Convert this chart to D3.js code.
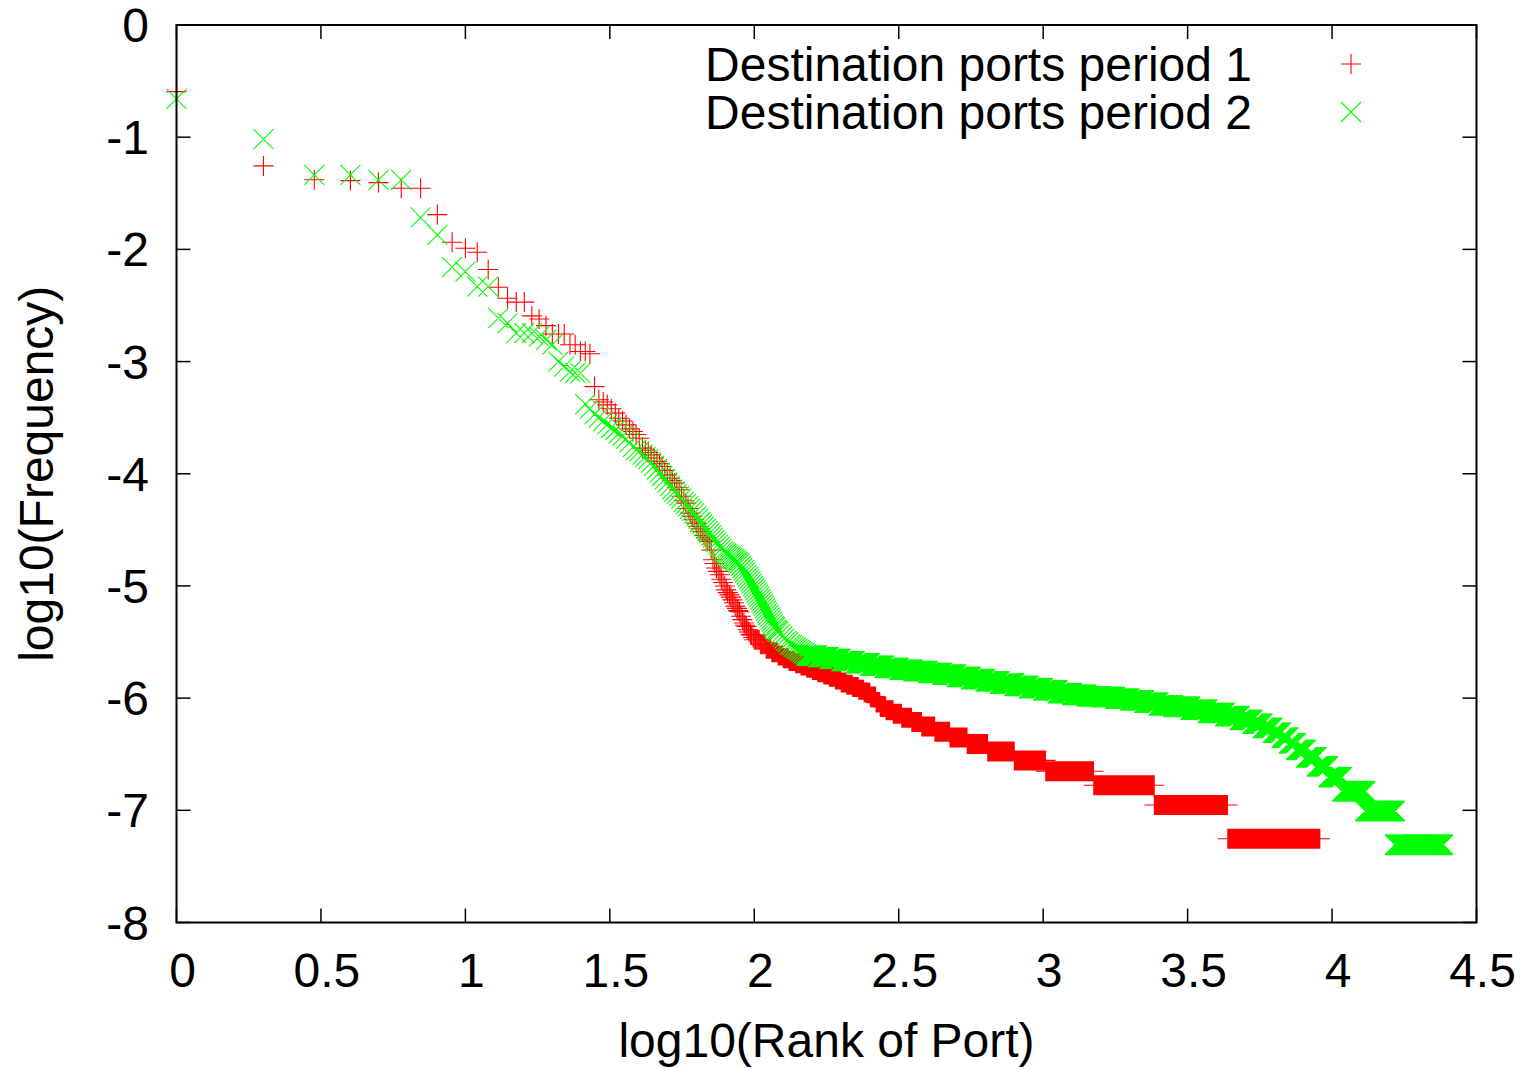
<!DOCTYPE html>
<html>
<head>
<meta charset="utf-8">
<script src="https://cdn.jsdelivr.net/npm/d3@7"></script>
<style>
  html, body { margin: 0; padding: 0; background: #ffffff; }
  svg { display: block; }
</style>
</head>
<body>
<svg id="chart" width="1521" height="1069"></svg>
<script>
// Axis ticks
const xTicks = [0, 0.5, 1, 1.5, 2, 2.5, 3, 3.5, 4, 4.5];
const yTicks = [0, -1, -2, -3, -4, -5, -6, -7, -8];
const xTitle = "log10(Rank of Port)";
const yTitle = "log10(Frequency)";
const seriesNames = ["Destination ports period 1", "Destination ports period 2"];

// Period 1: single ranks [log10(rank), log10(frequency)]
const period1Points = [
  [0, -0.594], [0.301, -1.256], [0.477, -1.38], [0.602, -1.387], [0.699, -1.405],
  [0.778, -1.455], [0.845, -1.455], [0.903, -1.69], [0.954, -1.936], [1.0, -1.99],
  [1.041, -2.025], [1.079, -2.18], [1.114, -2.338], [1.146, -2.435], [1.176, -2.47],
  [1.204, -2.47], [1.23, -2.593], [1.255, -2.62], [1.279, -2.68], [1.301, -2.754],
  [1.322, -2.754], [1.342, -2.754], [1.362, -2.85], [1.38, -2.85], [1.398, -2.91],
  [1.415, -2.91], [1.431, -2.93], [1.447, -3.223], [1.462, -3.34], [1.477, -3.36],
  [1.491, -3.386], [1.505, -3.42], [1.519, -3.46], [1.531, -3.505], [1.544, -3.53],
  [1.556, -3.564], [1.568, -3.6], [1.58, -3.624], [1.591, -3.65], [1.602, -3.683],
  [1.613, -3.772], [1.623, -3.79], [1.633, -3.81], [1.643, -3.832], [1.653, -3.86],
  [1.663, -3.89], [1.672, -3.91], [1.681, -3.936], [1.69, -3.97], [1.699, -4.01],
  [1.708, -4.04], [1.716, -4.06], [1.724, -4.084], [1.732, -4.12], [1.74, -4.143],
  [1.748, -4.2], [1.756, -4.24], [1.763, -4.262], [1.771, -4.31], [1.778, -4.351],
  [1.785, -4.38], [1.792, -4.41], [1.799, -4.44], [1.806, -4.47], [1.813, -4.49],
  [1.82, -4.515], [1.826, -4.55], [1.833, -4.57], [1.839, -4.59], [1.845, -4.604],
  [1.851, -4.68], [1.857, -4.767], [1.863, -4.8], [1.869, -4.84], [1.875, -4.87],
  [1.881, -4.9], [1.886, -4.94], [1.892, -4.97], [1.898, -5.0], [1.903, -5.035],
  [1.908, -5.06], [1.914, -5.08], [1.919, -5.1], [1.924, -5.124], [1.929, -5.15],
  [1.934, -5.18], [1.94, -5.2], [1.944, -5.22], [1.949, -5.23], [1.954, -5.27],
  [1.959, -5.3], [1.964, -5.33], [1.968, -5.35], [1.973, -5.362], [1.978, -5.39],
  [1.982, -5.41], [1.987, -5.43], [1.991, -5.44], [1.996, -5.46]
];

// Period 1: runs of consecutive ranks sharing one frequency [from log10(rank), to log10(rank), log10(frequency)]
const period1Runs = [
  [2.0, 2.02, -5.48], [2.02, 2.04, -5.52], [2.04, 2.06, -5.56], [2.06, 2.08, -5.59],
  [2.08, 2.1, -5.62], [2.1, 2.12, -5.645], [2.12, 2.14, -5.67], [2.14, 2.16, -5.69],
  [2.16, 2.18, -5.71], [2.18, 2.2, -5.73], [2.2, 2.22, -5.75], [2.22, 2.24, -5.77],
  [2.24, 2.26, -5.79], [2.26, 2.28, -5.81], [2.28, 2.3, -5.835], [2.3, 2.32, -5.86],
  [2.32, 2.34, -5.88], [2.34, 2.36, -5.9], [2.36, 2.38, -5.925], [2.38, 2.4, -5.95],
  [2.4, 2.42, -5.985], [2.42, 2.435, -6.04],
  [2.435, 2.455, -6.078], [2.455, 2.481, -6.108], [2.481, 2.51, -6.14],
  [2.51, 2.545, -6.175], [2.545, 2.579, -6.213], [2.579, 2.625, -6.254],
  [2.625, 2.677, -6.3], [2.677, 2.737, -6.351], [2.737, 2.808, -6.409],
  [2.808, 2.9, -6.476], [2.9, 3.009, -6.555], [3.009, 3.175, -6.652],
  [3.175, 3.385, -6.777], [3.385, 3.639, -6.953], [3.639, 3.958, -7.254]
];

// Period 2: single ranks [log10(rank), log10(frequency)]
const period2Points = [
  [0, -0.659], [0.301, -1.018], [0.477, -1.336], [0.602, -1.336], [0.699, -1.38],
  [0.778, -1.38], [0.845, -1.714], [0.903, -1.871], [0.954, -2.159], [1.0, -2.198],
  [1.041, -2.332], [1.079, -2.332], [1.114, -2.613], [1.146, -2.658], [1.176, -2.747],
  [1.204, -2.747], [1.23, -2.747], [1.255, -2.777], [1.279, -2.807], [1.301, -2.85],
  [1.322, -3.0], [1.342, -3.045], [1.362, -3.09], [1.38, -3.1], [1.398, -3.103],
  [1.415, -3.38], [1.431, -3.42], [1.447, -3.47], [1.462, -3.5], [1.477, -3.53],
  [1.491, -3.56], [1.505, -3.59], [1.519, -3.61], [1.531, -3.64], [1.544, -3.66],
  [1.556, -3.69], [1.568, -3.72], [1.58, -3.76], [1.591, -3.79], [1.602, -3.8],
  [1.613, -3.83], [1.623, -3.85], [1.633, -3.87], [1.643, -3.9], [1.653, -3.93],
  [1.663, -3.96], [1.672, -3.99], [1.681, -4.02], [1.69, -4.05], [1.699, -4.08],
  [1.708, -4.11], [1.716, -4.14], [1.724, -4.16], [1.732, -4.18], [1.74, -4.2],
  [1.748, -4.22], [1.756, -4.25], [1.763, -4.27], [1.771, -4.29], [1.778, -4.31],
  [1.785, -4.33], [1.792, -4.35], [1.799, -4.38], [1.806, -4.4], [1.813, -4.43],
  [1.82, -4.45], [1.826, -4.47], [1.833, -4.49], [1.839, -4.51], [1.845, -4.53],
  [1.851, -4.55], [1.857, -4.57], [1.863, -4.59], [1.869, -4.61], [1.875, -4.63],
  [1.881, -4.65], [1.886, -4.67], [1.892, -4.69], [1.898, -4.7], [1.903, -4.71],
  [1.908, -4.72], [1.914, -4.73], [1.919, -4.74], [1.924, -4.75], [1.929, -4.76],
  [1.934, -4.77], [1.94, -4.78], [1.944, -4.79], [1.949, -4.8], [1.954, -4.82],
  [1.959, -4.84], [1.964, -4.86], [1.968, -4.88], [1.973, -4.9], [1.978, -4.92],
  [1.982, -4.94], [1.987, -4.96], [1.991, -4.98], [1.996, -5.0], [2.0, -5.02],
  [2.004, -5.04], [2.009, -5.06], [2.013, -5.08], [2.017, -5.1], [2.021, -5.12],
  [2.025, -5.14], [2.029, -5.16], [2.033, -5.18], [2.037, -5.2], [2.041, -5.22],
  [2.045, -5.24], [2.049, -5.26], [2.053, -5.28], [2.057, -5.3], [2.061, -5.32],
  [2.064, -5.34], [2.068, -5.36], [2.072, -5.37], [2.076, -5.39], [2.079, -5.4],
  [2.083, -5.41], [2.09, -5.43], [2.097, -5.45], [2.104, -5.47], [2.111, -5.49],
  [2.117, -5.5], [2.124, -5.52], [2.13, -5.53], [2.137, -5.54], [2.143, -5.55],
  [2.149, -5.56], [2.155, -5.57], [2.161, -5.58], [2.167, -5.59], [2.173, -5.6],
  [2.179, -5.61]
];

// Period 2: runs of consecutive ranks sharing one frequency
const period2Runs = [
  [2.18, 2.22, -5.62], [2.22, 2.26, -5.635], [2.26, 2.3, -5.65], [2.3, 2.35, -5.67],
  [2.35, 2.4, -5.69], [2.4, 2.45, -5.71], [2.45, 2.5, -5.73], [2.5, 2.55, -5.745],
  [2.55, 2.6, -5.76], [2.6, 2.65, -5.775], [2.65, 2.7, -5.79], [2.7, 2.75, -5.81],
  [2.75, 2.8, -5.83], [2.8, 2.85, -5.85], [2.85, 2.9, -5.87], [2.9, 2.95, -5.89],
  [2.95, 3.0, -5.91], [3.0, 3.05, -5.93], [3.05, 3.1, -5.955], [3.1, 3.15, -5.97],
  [3.15, 3.2, -5.985], [3.2, 3.25, -5.99], [3.25, 3.3, -6.005], [3.3, 3.35, -6.02],
  [3.35, 3.4, -6.04], [3.4, 3.45, -6.065],
  [3.45, 3.51, -6.077], [3.51, 3.57, -6.103], [3.57, 3.63, -6.131],
  [3.63, 3.68, -6.161], [3.68, 3.725, -6.193], [3.725, 3.76, -6.228],
  [3.76, 3.795, -6.266], [3.795, 3.825, -6.307], [3.825, 3.85, -6.353],
  [3.85, 3.875, -6.404], [3.875, 3.91, -6.462], [3.91, 3.947, -6.529],
  [3.947, 3.987, -6.608], [3.987, 4.035, -6.705], [4.035, 4.115, -6.83],
  [4.115, 4.218, -7.006], [4.218, 4.385, -7.307]
];

const colors = ["#ff0000", "#00ff00"];
const FONT = "'Liberation Sans', Arial, Helvetica, sans-serif";
const FONT_SIZE = 48;

const svg = d3.select("#chart");
const margin = { left: 176.5, right: 1476.5, top: 25, bottom: 922.5 };

const x = d3.scaleLinear().domain([0, 4.5]).range([margin.left, margin.right]);
const y = d3.scaleLinear().domain([-8, 0]).range([margin.bottom, margin.top]);

const S = 10; // marker half-size

function plusPath(px, py) {
  return `M${(px - S).toFixed(2)},${py.toFixed(2)}h${2 * S}M${px.toFixed(2)},${(py - S).toFixed(2)}v${2 * S}`;
}
function crossPath(px, py) {
  return `M${(px - S).toFixed(2)},${(py - S).toFixed(2)}l${2 * S},${2 * S}M${(px - S).toFixed(2)},${(py + S).toFixed(2)}l${2 * S},${-2 * S}`;
}

// Collect every rank position: single points plus each integer rank inside a run
function expand(points, runs) {
  const out = points.map(d => [d[0], d[1]]);
  runs.forEach(([x0, x1, v], i) => {
    const last = i === runs.length - 1;
    const r0 = Math.ceil(Math.pow(10, x0) - 1e-9);
    const r1 = last ? Math.floor(Math.pow(10, x1) + 1e-9) : Math.ceil(Math.pow(10, x1) - 1e-9) - 1;
    for (let r = r0; r <= r1; r++) out.push([Math.log10(r), v]);
  });
  return out;
}

function markerPath(data, shape) {
  const seen = new Set();
  let d = "";
  data.forEach(([lx, ly]) => {
    const px = x(lx), py = y(ly);
    const key = Math.round(px * 3) + "," + Math.round(py * 3);
    if (seen.has(key)) return;
    seen.add(key);
    d += shape(px, py);
  });
  return d;
}

const series = [
  { data: expand(period1Points, period1Runs), shape: plusPath, color: colors[0] },
  { data: expand(period2Points, period2Runs), shape: crossPath, color: colors[1] }
];

const marks = svg.append("g").attr("class", "marks");
series.forEach(s => {
  marks.append("path")
    .attr("d", markerPath(s.data, s.shape))
    .attr("fill", "none")
    .attr("stroke", s.color)
    .attr("stroke-width", 1.1);
});

// Frame with inward ticks on all four sides
const frame = svg.append("g").attr("class", "frame");
const TL = 14;
xTicks.forEach(t => {
  frame.append("line").attr("x1", x(t)).attr("x2", x(t))
    .attr("y1", margin.bottom).attr("y2", margin.bottom - TL)
    .attr("stroke", "#000").attr("stroke-width", 1.5);
  frame.append("line").attr("x1", x(t)).attr("x2", x(t))
    .attr("y1", margin.top).attr("y2", margin.top + TL)
    .attr("stroke", "#000").attr("stroke-width", 1.5);
});
yTicks.forEach(t => {
  frame.append("line").attr("x1", margin.left).attr("x2", margin.left + TL)
    .attr("y1", y(t)).attr("y2", y(t))
    .attr("stroke", "#000").attr("stroke-width", 1.5);
  frame.append("line").attr("x1", margin.right).attr("x2", margin.right - TL)
    .attr("y1", y(t)).attr("y2", y(t))
    .attr("stroke", "#000").attr("stroke-width", 1.5);
});
frame.append("rect")
  .attr("x", margin.left).attr("y", margin.top)
  .attr("width", margin.right - margin.left).attr("height", margin.bottom - margin.top)
  .attr("fill", "none").attr("stroke", "#000").attr("stroke-width", 2);

// Tick labels
const labels = svg.append("g").attr("font-family", FONT).attr("font-size", FONT_SIZE).attr("fill", "#000");
labels.selectAll(".xl").data(xTicks).join("text")
  .attr("class", "xl")
  .attr("x", d => x(d) + 6).attr("y", 987)
  .attr("text-anchor", "middle")
  .text(d => d3.format("")(d));
labels.selectAll(".yl").data(yTicks).join("text")
  .attr("class", "yl")
  .attr("x", 149).attr("y", d => y(d) + 17)
  .attr("text-anchor", "end")
  .text(d => d3.format("")(d).replace("−", "-"));

// Axis titles
labels.append("text")
  .attr("x", (margin.left + margin.right) / 2).attr("y", 1057)
  .attr("text-anchor", "middle").text(xTitle);
labels.append("text")
  .attr("transform", `translate(53,${(margin.top + margin.bottom) / 2}) rotate(-90)`)
  .attr("text-anchor", "middle").text(yTitle);

// Key
const key = svg.append("g");
const keyShapes = [plusPath, crossPath];
seriesNames.forEach((name, i) => {
  const cy = 64 + i * 48;
  key.append("text")
    .attr("x", 1252).attr("y", cy + 17)
    .attr("text-anchor", "end")
    .attr("font-family", FONT).attr("font-size", FONT_SIZE)
    .text(name);
  key.append("path")
    .attr("d", keyShapes[i](1351, cy))
    .attr("fill", "none").attr("stroke", colors[i]).attr("stroke-width", 1.1);
});
</script>
</body>
</html>
